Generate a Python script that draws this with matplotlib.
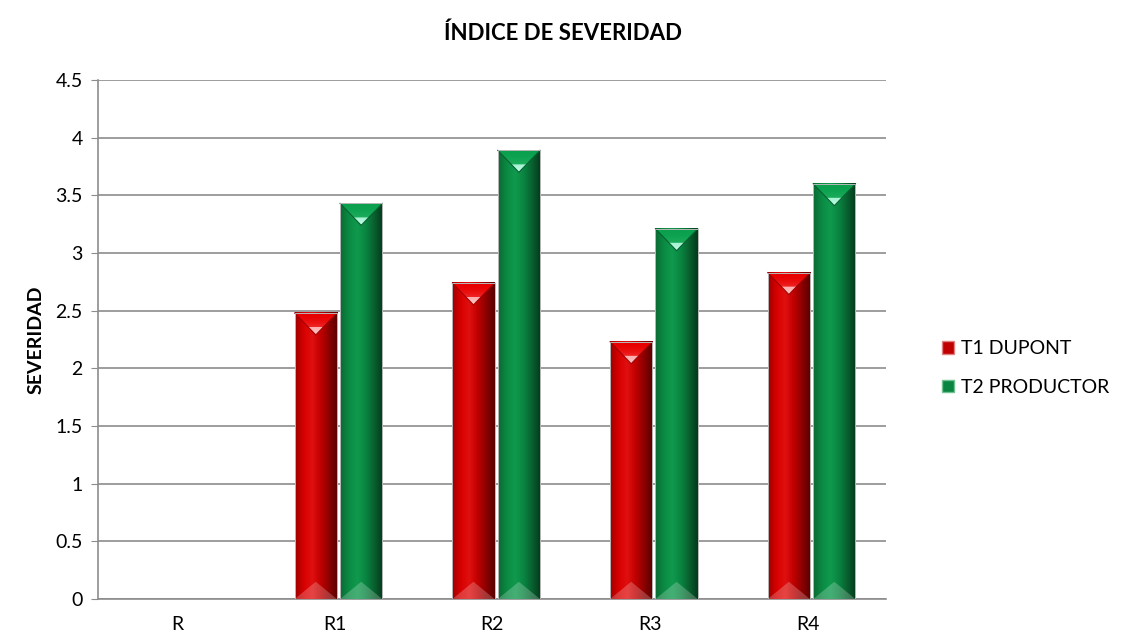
import matplotlib.pyplot as plt
import numpy as np
from matplotlib.colors import LinearSegmentedColormap
from matplotlib.patches import Polygon, Patch

plt.rcParams['font.family'] = ['Lato', 'DejaVu Sans']

categories = ['R', 'R1', 'R2', 'R3', 'R4']
t1_dupont = [0, 2.48, 2.74, 2.23, 2.83]
t2_productor = [0, 3.43, 3.89, 3.21, 3.60]
series_names = ['T1 DUPONT', 'T2 PRODUCTOR']

red_cmap = LinearSegmentedColormap.from_list(
    'red', ['#a00000', '#d80000', '#e01010', '#c00000', '#8c0000', '#5a0000'])
green_cmap = LinearSegmentedColormap.from_list(
    'green', ['#0b6a33', '#0a8a43', '#109a4e', '#0a8541', '#08612f', '#053a1c'])
red_top = LinearSegmentedColormap.from_list('rt', ['#e80000', '#f03030', '#ffd8d8'])
green_top = LinearSegmentedColormap.from_list('gt', ['#0aa04e', '#20b060', '#d0fff0'])


def bevel_bar(ax, x0, w, h, cmap, tcmap, edge, hl):
    if h <= 0:
        return
    grad = np.linspace(0, 1, 64).reshape(1, -1)
    ax.imshow(grad, cmap=cmap, aspect='auto', extent=(x0, x0 + w, 0, h),
              zorder=3, interpolation='bicubic')
    d = min(0.19, h / 2)
    xm = x0 + w / 2
    # top bevel
    tri = Polygon([[x0, h], [x0 + w, h], [xm, h - d]], closed=True,
                  facecolor='none', edgecolor='none', zorder=4)
    ax.add_patch(tri)
    vgrad = np.linspace(0, 1, 32).reshape(-1, 1) ** 2
    im = ax.imshow(vgrad, cmap=tcmap, aspect='auto', extent=(x0, x0 + w, h - d, h),
                   zorder=4, interpolation='bicubic', origin='upper')
    im.set_clip_path(tri)
    ax.add_patch(Polygon([[x0 + w * 0.32, h - d * 0.64], [x0 + w * 0.68, h - d * 0.64], [xm, h - d]],
                         closed=True, facecolor=hl, edgecolor='none', zorder=5, alpha=0.85))
    ax.plot([x0, xm, x0 + w], [h, h - d, h], color=edge, lw=0.8, zorder=5)
    # bottom bevel
    ax.add_patch(Polygon([[x0, 0], [x0 + w, 0], [xm, 0.15]],
                         closed=True, facecolor='white', edgecolor='none', zorder=4, alpha=0.22))
    ax.add_patch(Polygon([[x0, 0], [x0, h], [x0 + w, h], [x0 + w, 0]], closed=True,
                         facecolor='none', edgecolor='#b8b8b8', lw=0.7, zorder=6))


fig = plt.figure(figsize=(11.25, 6.4), dpi=100)
ax = fig.add_axes([0.0871, 0.064, 0.7009, 0.811])

x = np.arange(len(categories))
bw = 0.268
gap = 0.02
shift = 0.025
for i in range(len(categories)):
    bevel_bar(ax, x[i] + shift - bw - gap / 2, bw, t1_dupont[i], red_cmap, red_top,
              '#a00000', '#ffc8c8')
    bevel_bar(ax, x[i] + shift + gap / 2, bw, t2_productor[i], green_cmap, green_top,
              '#076030', '#c0ffe8')

ax.set_xlim(-0.5, len(categories) - 0.5)
ax.set_ylim(0, 4.5)
ax.set_yticks(np.arange(0, 4.51, 0.5))
ax.set_yticklabels(['0', '0.5', '1', '1.5', '2', '2.5', '3', '3.5', '4', '4.5'])
ax.set_xticks(x)
ax.set_xticklabels(categories)
ax.yaxis.grid(True, color='#8c8c8c', lw=1.2)
ax.set_axisbelow(True)
for s in ['top', 'right']:
    ax.spines[s].set_visible(False)
for s in ['left', 'bottom']:
    ax.spines[s].set_color('#8c8c8c')
    ax.spines[s].set_linewidth(1.2)
ax.tick_params(axis='y', length=5, color='#8c8c8c', labelsize=14, pad=6)
ax.tick_params(axis='x', length=0, labelsize=14, pad=12)

ax.set_ylabel('SEVERIDAD', fontsize=14, fontweight='bold', labelpad=8)
fig.text(0.5, 0.948, 'ÍNDICE DE SEVERIDAD', ha='center', va='center',
         fontsize=16, fontweight='bold')

handles = [Patch(facecolor='#c00000', edgecolor='#e08080'),
           Patch(facecolor='#0a8541', edgecolor='#70c090')]
fig.legend(handles, series_names, loc='center left', bbox_to_anchor=(0.822, 0.425),
           frameon=False, fontsize=14, handlelength=0.6, handleheight=0.6,
           handletextpad=0.35, labelspacing=1.1)

fig.savefig('out.png', dpi=100)
